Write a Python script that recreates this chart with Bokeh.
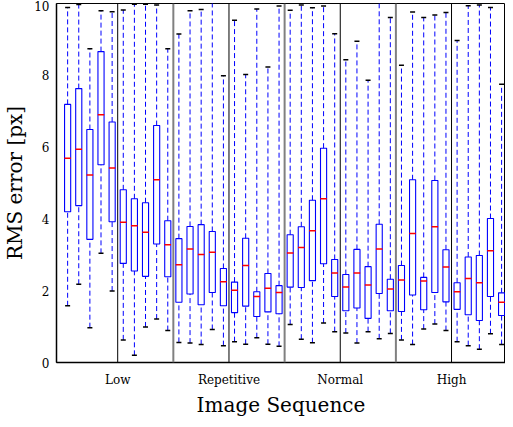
from bokeh.plotting import figure
from bokeh.models import Range1d, FixedTicker, Span, ColumnDataSource
from bokeh.embed import file_html
from bokeh.resources import INLINE

categories = ["Low", "Repetitive", "Normal", "High"]
boxes_per_block = 5
blocks_per_category = 2

whisker_low = [1.58, 2.18, 0.97, 3.04, 1.99, 0.63, 0.20, 0.99, 1.21, 0.89,
               0.56, 0.54, 0.50, 0.92, 0.47, 0.58, 0.51, 0.69, 0.51, 0.45,
               1.06, 0.65, 0.55, 1.10, 0.86, 0.82, 0.54, 0.86, 0.66, 0.81,
               0.63, 0.50, 0.93, 1.07, 0.89, 0.58, 0.47, 0.37, 0.80, 0.50]
q1 = [4.20, 4.37, 3.43, 5.51, 3.92, 2.76, 2.55, 2.40, 3.30, 2.39,
      1.68, 1.91, 1.61, 1.95, 1.58, 1.39, 1.57, 1.28, 1.41, 1.36,
      2.10, 2.09, 2.28, 2.75, 1.84, 1.44, 1.52, 1.23, 1.92, 1.44,
      1.42, 1.88, 1.47, 1.95, 1.69, 1.48, 1.33, 1.17, 1.84, 1.31]
median = [5.69, 5.94, 5.22, 6.90, 5.42, 3.91, 3.81, 3.63, 5.09, 3.28,
          2.72, 3.16, 3.01, 3.07, 2.25, 2.01, 2.70, 1.84, 2.07, 1.95,
          3.05, 3.20, 3.67, 4.56, 2.49, 2.10, 2.49, 2.16, 3.16, 2.05,
          2.30, 3.59, 2.27, 3.78, 2.66, 1.97, 2.34, 2.22, 3.11, 1.68]
q3 = [7.19, 7.63, 6.49, 8.66, 6.70, 4.81, 4.56, 4.45, 6.60, 3.95,
      3.45, 3.79, 3.84, 3.65, 2.62, 2.24, 3.46, 1.97, 2.48, 2.14,
      3.56, 3.78, 4.52, 5.97, 2.87, 2.45, 3.15, 2.67, 3.85, 2.32,
      2.70, 5.09, 2.37, 5.07, 3.14, 2.22, 2.94, 2.98, 4.01, 1.94]
whisker_high = [9.89, 9.97, 8.74, 9.80, 9.77, 9.82, 9.98, 9.98, 9.96, 8.74,
                9.15, 9.80, 9.83, 10.3, 7.99, 9.53, 8.02, 9.85, 8.23, 9.93,
                9.81, 9.96, 9.88, 9.93, 9.16, 8.43, 8.95, 7.86, 10.3, 9.61,
                8.28, 9.76, 9.61, 9.68, 9.75, 8.97, 9.94, 9.96, 9.89, 7.75]
y_ticks = [0, 2, 4, 6, 8, 10]

n = len(median)
xs = list(range(1, n + 1))
src = ColumnDataSource(dict(x=xs, lo=whisker_low, q1=q1, med=median, q3=q3, hi=whisker_high))

FONT = "DejaVu Serif"

p = figure(width=505, height=419, output_backend="svg", toolbar_location=None,
           x_range=Range1d(0, 40.35), y_range=Range1d(0, 10),
           min_border_left=51, min_border_right=0, min_border_top=3, min_border_bottom=0)
p.grid.visible = False
p.outline_line_color = "black"
p.outline_line_width = 1
p.background_fill_color = "white"

# separators
nblk = n // boxes_per_block
for b in range(1, nblk):
    pos = b * boxes_per_block + 0.5
    if b % blocks_per_category == 1:
        p.add_layout(Span(location=pos, dimension="height", line_color="black", line_width=1))
    else:
        p.add_layout(Span(location=pos, dimension="height", line_color="#808080", line_width=2))

# whiskers
p.segment(x0="x", y0="q3", x1="x", y1="hi", source=src, line_color="#0000ff",
          line_width=1, line_dash="5 3")
p.segment(x0="x", y0="lo", x1="x", y1="q1", source=src, line_color="#0000ff",
          line_width=1, line_dash="5 3")
# caps
p.scatter(x="x", y="hi", source=src, marker="dash", size=5, line_color="black", line_width=1.5)
p.scatter(x="x", y="lo", source=src, marker="dash", size=5, line_color="black", line_width=1.5)
# boxes
p.vbar(x="x", bottom="q1", top="q3", width=0.55, source=src, fill_alpha=0,
       line_color="#0000ff", line_width=1.1)
# medians
p.scatter(x="x", y="med", source=src, marker="dash", size=6.5, line_color="#ff0000", line_width=1.5)

# axes
label_pos = [(i * blocks_per_category + 1) * boxes_per_block + 0.5 for i in range(len(categories))]
p.xaxis.ticker = FixedTicker(ticks=label_pos)
p.xaxis.major_label_overrides = {pos: c for pos, c in zip(label_pos, categories)}
p.xaxis.major_tick_out = 0
p.xaxis.major_tick_in = 0
p.xaxis.minor_tick_line_color = None
p.xaxis.major_label_standoff = 10
p.xaxis.axis_label = "Image Sequence"
p.xaxis.axis_label_standoff = 3

p.yaxis.ticker = FixedTicker(ticks=y_ticks)
p.yaxis.major_tick_out = 0
p.yaxis.major_tick_in = 0
p.yaxis.minor_tick_line_color = None
p.yaxis.major_label_standoff = 7
p.yaxis.axis_label = "RMS error [px]"
p.yaxis.axis_label_standoff = 4

for ax in (p.xaxis, p.yaxis):
    ax.axis_line_color = "black"
    ax.axis_line_width = 1.5
    ax.major_label_text_font = FONT
    ax.major_label_text_font_size = "12px"
    ax.major_label_text_color = "black"
    ax.axis_label_text_font = FONT
    ax.axis_label_text_font_size = "20px"
    ax.axis_label_text_font_style = "normal"
    ax.axis_label_text_color = "black"

open("out.html", "w").write(file_html(p, INLINE))
